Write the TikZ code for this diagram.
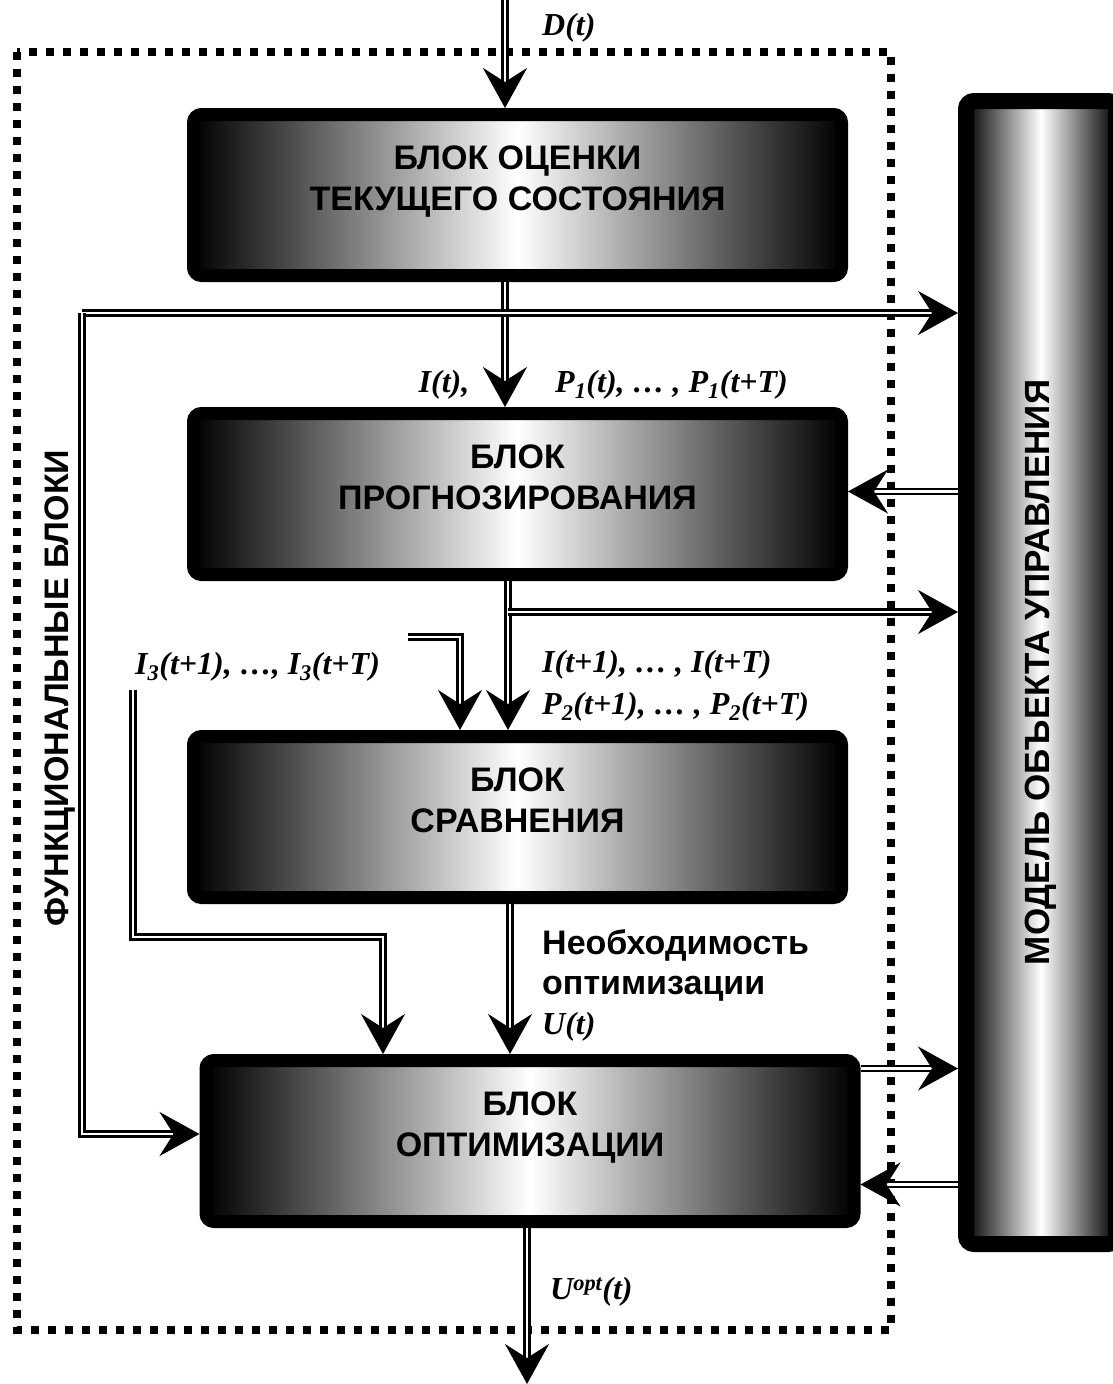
\documentclass[tikz,border=0pt]{standalone}
\usepackage{fontspec}
\setmainfont{Liberation Sans}
\newfontfamily\labelfont{Liberation Serif}
\usetikzlibrary{arrows.meta}
\usetikzlibrary{calc}
\usetikzlibrary{positioning}

\begin{document}
\begin{tikzpicture} [
        x = 1pt,
        y = -1pt,
        node distance = 125pt,
        every node/.style = {
          align = center,
        },
        funcbox/.style = {
          draw,
          line width = 13pt,
          rounded corners = 8pt,
          minimum width = 648pt,
          minimum height = 161pt,
          left color = black,
          right color = black,
          middle color = white,
          font = \bfseries\fontsize{34}{41}\selectfont,
          text depth = 33pt,
        },
        modelbox/.style = {
          draw,
          line width = 16pt,
          rounded corners = 8pt,
          minimum width = 150pt,
          minimum height = 1143pt,
          left color = black,
          right color = black,
          middle color = white,
          font = \bfseries\fontsize{35}{41}\selectfont,
        },
        sig/.style = {
          draw,
          line width = 2.4pt,
          double = white,
          double distance = 2.4pt,
        },
        sigarrow/.style = {
          sig,
          -{Stealth[length=40pt, width=44pt, inset=14pt]},
        },
        sigtext/.style = {
          font = \labelfont\bfseries\itshape\fontsize{32}{34}\selectfont,
          inner sep = 0pt,
        },
        dotframe/.style = {
          line width = 8pt,
          dash pattern = on 8pt off 9pt,
        },
      ]
    \useasboundingbox (0,0) rectangle (1113,1384);

    % frame of the functional blocks
    \draw[dotframe] (17,52) rectangle (891,1330);
    \node [rotate = 90, font = \bfseries\fontsize{34}{38}\selectfont] (funcLabel) at (60,688) {ФУНКЦИОНАЛЬНЫЕ БЛОКИ};

    % blocks
    \node [funcbox] at (517.5,195) (estBlock) {БЛОК ОЦЕНКИ\\ТЕКУЩЕГО СОСТОЯНИЯ};
    \node [funcbox, below = of estBlock] (progBlock) {БЛОК\\ПРОГНОЗИРОВАНИЯ};
    \node [funcbox, below = 149pt of progBlock] (cmpBlock) {БЛОК\\СРАВНЕНИЯ};
    \node [funcbox, below = 150pt of cmpBlock, xshift = 12.5pt] (optBlock) {БЛОК\\ОПТИМИЗАЦИИ};

    \node [modelbox] at (1041,672.5) (modelBox) {\rotatebox{90}{МОДЕЛЬ ОБЪЕКТА УПРАВЛЕНИЯ}};

    % labels
    \node [sigtext, anchor = west] at (542,28) (dLabel) {D(t)};
    \node [sigtext] at (444,385) (iLabel) {I(t),};
    \node [sigtext, anchor = west] at (555,385) (pOneLabel) {P\textsubscript{1}(t), … , P\textsubscript{1}(t+T)};
    \node [sigtext, anchor = west] at (542,665) (iNextLabel) {I(t+1), … , I(t+T)};
    \node [sigtext, anchor = west] at (542,707) (pTwoLabel) {P\textsubscript{2}(t+1), … , P\textsubscript{2}(t+T)};
    \node [sigtext, anchor = west] at (135,667) (iThreeLabel) {I\textsubscript{3}(t+1), …, I\textsubscript{3}(t+T)};
    \node [anchor = west, align = left, inner sep = 0pt, font = \bfseries\fontsize{34}{40}\selectfont] at (542,965) (needLabel) {Необходимость\\оптимизации};
    \node [sigtext, anchor = west] at (542,1027) (uLabel) {U(t)};
    \node [sigtext, anchor = west] at (550,1292) (uOptLabel) {U\textsuperscript{opt}(t)};

    % connectors
    \coordinate (dIn) at (505,0);
    \draw[sigarrow] (dIn) -- (dIn |- estBlock.north);

    \draw[sigarrow] ([xshift = -12.5pt]estBlock.south) -- ([xshift = -12.5pt]progBlock.north);
    \coordinate (feedLeft) at (82,313);
    \draw[sigarrow] (feedLeft) -- (feedLeft -| modelBox.west);
    \draw[sigarrow] (feedLeft) |- ([yshift = 7pt]optBlock.west);

    \draw[sigarrow] ([xshift = -9.5pt]progBlock.south) -- ([xshift = -9.5pt]cmpBlock.north);
    \coordinate [below = 31pt of progBlock.south, xshift = -9.5pt] (splitTwo);
    \draw[sigarrow] (splitTwo) -- (splitTwo -| modelBox.west);

    \coordinate (iThreeIn) at (408,637);
    \draw[sigarrow] (iThreeIn) -| ([xshift = -57.5pt]cmpBlock.north);

    \coordinate (iThreeLeft) at (133,690);
    \coordinate (iThreeTurn) at (383,937);
    \draw[sigarrow] (iThreeLeft) |- (iThreeTurn) -- (iThreeTurn |- optBlock.north);

    \draw[sigarrow] ([xshift = -7.5pt]cmpBlock.south) -- ([xshift = -7.5pt]cmpBlock.south |- optBlock.north);

    \draw[sigarrow] ([yshift = 72.5pt]optBlock.east) -- ([yshift = 72.5pt]optBlock.east -| modelBox.west);
    \draw[sigarrow] ([yshift = -43.5pt]optBlock.east -| modelBox.west) -- ([yshift = -43.5pt]optBlock.east);
    \draw[sigarrow] ([yshift = 2.5pt]progBlock.east -| modelBox.west) -- ([yshift = 2.5pt]progBlock.east);

    \coordinate (uOut) at (527,1384);
    \draw[sigarrow] (optBlock.south -| uOut) -- (uOut);
  \end{tikzpicture}
\end{document}
